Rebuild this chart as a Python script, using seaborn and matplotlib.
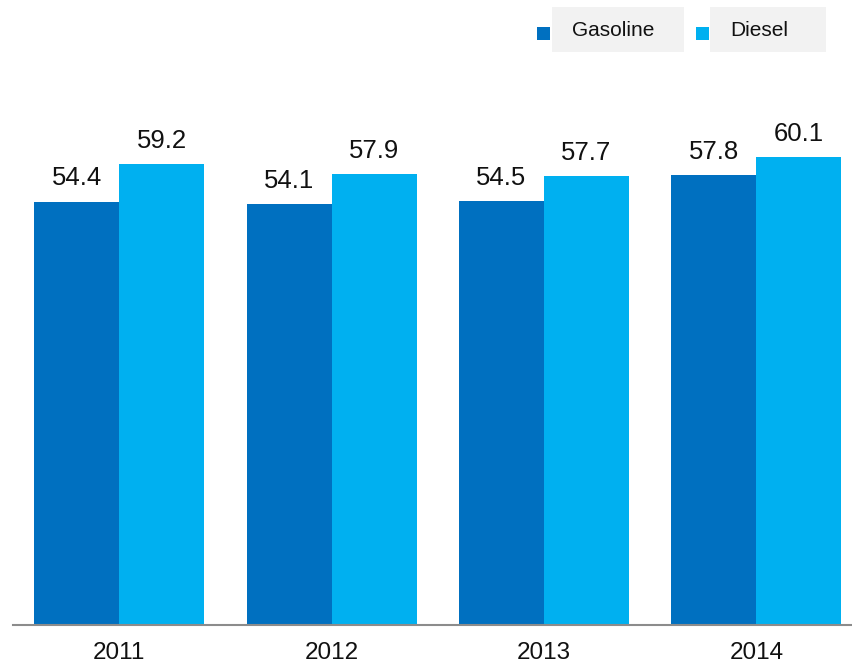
import matplotlib
matplotlib.use("Agg")
import matplotlib.pyplot as plt
import seaborn as sns
import pandas as pd
from matplotlib.patches import Rectangle

years = ["2011", "2012", "2013", "2014"]
gasoline = [54.4, 54.1, 54.5, 57.8]
diesel = [59.2, 57.9, 57.7, 60.1]
series = ["Gasoline", "Diesel"]
colors = ["#0070C0", "#00B0F0"]

df = pd.DataFrame({
    "year": years * 2,
    "value": gasoline + diesel,
    "fuel": [series[0]] * len(years) + [series[1]] * len(years),
})

sns.set_style("white")
plt.rcParams["font.family"] = ["Liberation Sans", "DejaVu Sans"]

W, H = 852, 664
fig = plt.figure(figsize=(W / 100, H / 100), dpi=100)
ax = fig.add_axes([13 / W, (H - 625) / H, (W - 13) / W, 625 / H])

sns.barplot(data=df, x="year", y="value", hue="fuel", palette=colors,
            saturation=1, width=0.8, edgecolor="none", linewidth=0, ax=ax,
            legend=False)

for cont in ax.containers:
    for bar in cont:
        h = bar.get_height()
        ax.annotate(f"{h:.1f}", (bar.get_x() + bar.get_width() / 2, h),
                    xytext=(0, 8), textcoords="offset points",
                    ha="center", va="bottom", fontsize=18.5, color="#111111")

ax.set_ylim(0, 80.3)
ax.set_xlim(-0.5, 3.45)
ax.set_xlabel("")
ax.set_ylabel("")
ax.set_yticks([])
for s in ["top", "right", "left"]:
    ax.spines[s].set_visible(False)
ax.spines["bottom"].set_color("#8c8c8c")
ax.spines["bottom"].set_linewidth(1.5)
ax.tick_params(axis="x", length=0, pad=12.5, labelsize=17.5, colors="#111111")

# Custom legend
def px(x, y, w, h):
    return (x / W, 1 - (y + h) / H, w / W, h / H)

for (mx, bx, bw, tx, label, col) in [
    (537, 552, 132, 572, series[0], colors[0]),
    (696, 710, 116, 730, series[1], colors[1]),
]:
    x0, y0, w0, h0 = px(bx, 7, bw, 45)
    fig.patches.append(Rectangle((x0, y0), w0, h0, transform=fig.transFigure,
                                 facecolor="#f2f2f2", edgecolor="none"))
    x1, y1, w1, h1 = px(mx, 27, 13, 13)
    fig.patches.append(Rectangle((x1, y1), w1, h1, transform=fig.transFigure,
                                 facecolor=col, edgecolor="none"))
    fig.text(tx / W, 1 - 30 / H, label, fontsize=15, va="center", ha="left",
             color="#111111")

fig.savefig("out.png", dpi=100)
